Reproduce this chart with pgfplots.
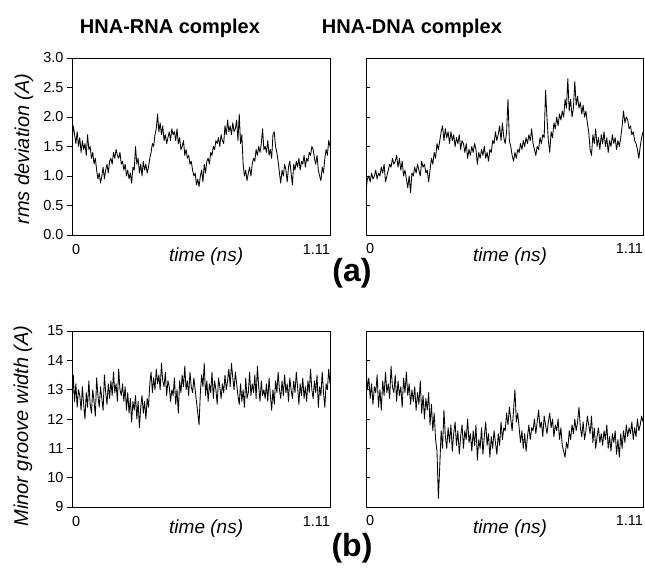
\documentclass[border=0pt]{standalone}
\usepackage{pgfplots}
\pgfplotsset{compat=1.18}
\usepackage{pgfplotstable}
\usepackage{fontspec}
\setmainfont{Liberation Sans}

\pgfplotstableread[row sep=\\]{y\\
1.6\\1.85\\1.7\\1.55\\1.75\\1.5\\1.65\\1.4\\1.6\\1.45\\
1.55\\1.35\\1.7\\1.45\\1.5\\1.3\\1.4\\1.2\\1.3\\1.1\\
0.95\\1.05\\0.88\\1.0\\1.15\\0.95\\1.1\\1.2\\1.05\\1.25\\
1.3\\1.2\\1.4\\1.3\\1.45\\1.35\\1.3\\1.4\\1.2\\1.25\\
1.1\\1.2\\1.0\\1.1\\0.95\\1.05\\0.88\\1.15\\1.1\\1.5\\
1.2\\1.3\\1.05\\1.2\\1.0\\1.25\\1.1\\1.2\\1.05\\1.15\\
1.3\\1.4\\1.55\\1.5\\1.7\\1.8\\2.05\\1.75\\1.9\\1.7\\
1.85\\1.6\\1.7\\1.55\\1.65\\1.75\\1.6\\1.8\\1.7\\1.75\\
1.6\\1.8\\1.55\\1.65\\1.45\\1.5\\1.6\\1.35\\1.45\\1.3\\
1.35\\1.2\\1.25\\1.1\\1.0\\1.05\\0.85\\0.95\\0.82\\1.0\\
1.1\\0.9\\1.2\\1.05\\1.25\\1.3\\1.2\\1.4\\1.35\\1.5\\
1.45\\1.6\\1.55\\1.65\\1.5\\1.7\\1.6\\1.55\\1.85\\1.7\\
1.95\\1.75\\1.85\\1.7\\1.9\\1.75\\1.8\\1.95\\1.6\\2.05\\
1.55\\1.7\\1.2\\1.0\\1.1\\0.92\\1.05\\1.15\\1.0\\1.2\\
1.3\\1.25\\1.45\\1.35\\1.5\\1.4\\1.55\\1.8\\1.45\\1.5\\
1.4\\1.6\\1.35\\1.45\\1.3\\1.7\\1.75\\1.5\\1.4\\1.25\\
1.05\\0.88\\1.1\\1.0\\1.2\\1.1\\0.9\\1.15\\1.25\\1.05\\
0.85\\1.2\\1.1\\1.25\\1.15\\1.3\\1.1\\1.25\\1.2\\1.35\\
1.15\\1.3\\1.25\\1.4\\1.35\\1.5\\1.45\\1.3\\1.2\\1.35\\
1.1\\1.0\\0.92\\1.15\\1.05\\1.3\\1.45\\1.35\\1.6\\1.5\\
}\rmsrna

\pgfplotstableread[row sep=\\]{y\\
0.75\\0.95\\1.0\\0.9\\1.05\\0.95\\1.0\\1.1\\0.95\\1.05\\
1.0\\1.15\\1.05\\1.2\\0.9\\1.0\\1.1\\1.2\\1.15\\1.3\\
1.2\\1.25\\1.35\\1.15\\1.3\\1.1\\1.25\\1.0\\1.1\\0.95\\
0.8\\1.0\\0.72\\1.05\\1.0\\1.15\\1.05\\1.2\\1.1\\1.0\\
1.25\\1.15\\1.2\\1.05\\1.1\\0.9\\1.1\\1.3\\1.2\\1.4\\
1.3\\1.55\\1.45\\1.6\\1.75\\1.85\\1.6\\1.8\\1.65\\1.75\\
1.55\\1.75\\1.6\\1.7\\1.5\\1.65\\1.55\\1.7\\1.45\\1.6\\
1.55\\1.4\\1.55\\1.3\\1.45\\1.35\\1.5\\1.4\\1.55\\1.45\\
1.2\\1.4\\1.3\\1.45\\1.35\\1.5\\1.3\\1.4\\1.25\\1.45\\
1.4\\1.6\\1.55\\1.75\\1.6\\1.7\\1.85\\1.6\\1.9\\1.65\\
1.55\\1.75\\2.3\\1.6\\1.5\\1.35\\1.25\\1.4\\1.3\\1.45\\
1.4\\1.55\\1.45\\1.6\\1.5\\1.65\\1.55\\1.7\\1.6\\1.8\\
1.55\\1.45\\1.35\\1.5\\1.45\\1.65\\1.55\\1.7\\1.65\\2.45\\
2.0\\1.6\\1.4\\1.75\\1.65\\1.9\\1.8\\2.0\\1.85\\2.05\\
1.95\\2.1\\2.0\\2.3\\2.15\\2.65\\2.1\\2.3\\2.0\\2.15\\
2.6\\2.2\\2.35\\2.15\\2.25\\2.05\\2.2\\2.0\\2.1\\1.9\\
1.75\\1.45\\1.35\\1.7\\1.55\\1.8\\1.5\\1.65\\1.45\\1.7\\
1.55\\1.75\\1.5\\1.65\\1.4\\1.6\\1.5\\1.7\\1.55\\1.65\\
1.45\\1.6\\1.5\\1.65\\1.85\\2.1\\1.9\\2.0\\1.95\\1.8\\
1.85\\1.7\\1.75\\1.6\\1.55\\1.45\\1.3\\1.5\\1.65\\1.75\\
}\rmsdna

\pgfplotstableread[row sep=\\]{y\\
12.3\\13.5\\12.6\\13.2\\12.4\\13.0\\12.8\\12.3\\13.1\\12.5\\
12.0\\12.9\\12.4\\13.3\\12.5\\12.2\\13.0\\12.6\\12.1\\13.4\\
12.8\\12.4\\13.1\\12.7\\12.3\\13.5\\12.9\\12.5\\13.2\\12.7\\
13.3\\12.8\\13.6\\12.9\\13.2\\12.6\\13.7\\13.0\\12.8\\13.2\\
12.6\\13.1\\12.3\\12.9\\12.2\\12.7\\11.9\\12.6\\12.3\\12.8\\
12.0\\12.6\\11.7\\12.4\\12.8\\12.2\\12.6\\12.0\\12.7\\12.4\\
13.2\\13.6\\12.9\\13.4\\13.0\\13.7\\13.2\\13.5\\13.0\\13.9\\
13.3\\13.1\\13.6\\12.8\\13.3\\13.1\\12.6\\13.0\\12.8\\13.4\\
12.5\\13.0\\12.2\\13.3\\12.9\\13.5\\13.1\\13.8\\13.0\\13.3\\
12.8\\13.6\\13.1\\12.9\\13.4\\13.0\\12.6\\12.2\\11.8\\12.9\\
13.5\\13.1\\13.9\\12.8\\13.3\\12.6\\13.2\\12.9\\13.6\\12.7\\
13.3\\13.0\\12.5\\13.4\\13.1\\12.7\\13.2\\12.9\\13.5\\13.0\\
13.3\\13.7\\13.1\\13.9\\13.4\\13.0\\13.6\\13.2\\12.8\\12.5\\
13.2\\12.6\\13.0\\12.4\\13.4\\12.7\\12.9\\13.6\\12.8\\13.2\\
12.9\\13.5\\12.7\\13.8\\13.1\\12.6\\13.3\\12.8\\13.0\\12.7\\
13.2\\12.6\\13.4\\12.8\\12.3\\13.0\\12.5\\13.3\\12.9\\13.6\\
13.0\\12.7\\13.3\\12.8\\13.5\\12.9\\13.2\\12.6\\13.4\\13.0\\
12.7\\13.3\\12.9\\13.6\\13.1\\12.5\\13.2\\12.8\\13.4\\12.7\\
13.1\\12.6\\13.3\\12.9\\13.7\\13.0\\12.7\\13.3\\12.9\\13.5\\
12.4\\13.1\\12.8\\13.6\\12.9\\12.4\\13.2\\13.0\\13.7\\13.2\\
}\mgrna

\pgfplotstableread[row sep=\\]{y\\
13.8\\13.0\\13.4\\12.7\\13.2\\12.5\\13.1\\12.9\\13.5\\12.4\\
13.0\\12.3\\13.3\\12.8\\13.6\\12.9\\13.2\\12.7\\13.8\\13.1\\
12.9\\13.5\\12.6\\13.3\\12.8\\13.1\\12.4\\13.4\\12.9\\13.6\\
12.8\\13.2\\12.5\\13.0\\12.6\\13.1\\12.3\\12.9\\12.5\\13.3\\
12.2\\12.8\\12.0\\12.7\\12.3\\12.9\\11.8\\12.5\\11.6\\12.2\\
11.3\\10.9\\9.3\\10.4\\11.6\\11.0\\12.3\\11.4\\11.0\\11.7\\
11.2\\11.8\\10.9\\11.5\\11.9\\11.1\\11.6\\10.8\\11.4\\11.8\\
11.0\\11.6\\11.3\\12.0\\11.2\\11.5\\10.9\\11.6\\11.1\\11.8\\
10.6\\11.3\\11.0\\11.7\\10.8\\11.4\\11.9\\11.1\\11.5\\10.7\\
11.4\\11.0\\11.6\\11.2\\10.8\\11.5\\11.1\\11.9\\11.3\\11.7\\
11.6\\12.2\\11.8\\12.4\\12.0\\11.6\\12.3\\13.0\\11.9\\12.2\\
11.7\\11.2\\11.6\\11.0\\11.5\\10.9\\11.4\\11.8\\11.3\\11.7\\
11.6\\12.0\\11.5\\11.9\\12.3\\11.7\\11.9\\11.4\\12.1\\11.8\\
11.5\\11.9\\12.2\\11.7\\12.0\\11.4\\11.8\\11.6\\12.0\\11.3\\
11.7\\11.1\\10.9\\10.7\\11.2\\11.0\\11.6\\11.3\\11.8\\11.5\\
12.0\\11.6\\11.9\\12.4\\11.7\\11.4\\11.9\\11.3\\11.6\\12.1\\
11.8\\11.5\\12.1\\11.2\\11.7\\11.0\\11.4\\11.7\\11.2\\11.5\\
11.1\\11.6\\11.3\\11.8\\11.0\\11.4\\10.9\\11.5\\11.2\\11.6\\
10.8\\11.3\\10.7\\11.5\\11.0\\11.6\\11.2\\11.8\\11.4\\11.7\\
11.5\\11.9\\11.3\\11.7\\11.4\\12.0\\11.6\\11.8\\12.1\\11.9\\
}\mgdna

\pgfplotsset{
  panel/.style={
    scale only axis,
    xmin=0, xmax=199,
    xtick={0,199},
    xticklabels={\rlap{0},\llap{1.11}},
    xtick style={draw=none},
    ytick pos=left,
    axis line style={line width=0.8pt},
    tick style={line width=0.8pt, black},
    tick label style={font=\fontsize{14.5}{14.5}\selectfont},
    /pgf/number format/assume math mode=true,
    xlabel={time (ns)},
    xlabel style={at={(axis description cs:0.52,0)}, anchor=north, inner sep=0pt, yshift=-13pt, font=\fontsize{19}{19}\selectfont\itshape},
  },
  leftpanel/.style={panel, tick align=outside, major tick length=5pt,
    xticklabel style={yshift=-1pt},
    ylabel style={anchor=center, font=\fontsize{20}{20}\selectfont\itshape}},
  rightpanel/.style={panel, tick align=inside, major tick length=4pt, yticklabels={},
    xticklabel style={yshift=-5pt}},
  rmsaxis/.style={ymin=0, ymax=3, ytick={0,0.5,1,1.5,2,2.5,3},
    yticklabel style={/pgf/number format/.cd, fixed, fixed zerofill, precision=1}},
  mgaxis/.style={ymin=9, ymax=15, ytick={9,10,11,12,13,14,15}},
  trace/.style={black, line width=0.85pt, no markers, line join=round},
}

\begin{document}
\begin{tikzpicture}
\useasboundingbox (0pt,0pt) rectangle (645pt,-573pt);

\node[anchor=base, font=\fontsize{20}{20}\selectfont\bfseries] at (170pt,-33pt) {HNA-RNA complex};
\node[anchor=base, font=\fontsize{20}{20}\selectfont\bfseries] at (412pt,-33pt) {HNA-DNA complex};

\begin{axis}[leftpanel, rmsaxis, at={(72pt,-235pt)}, anchor=south west, width=258pt, height=177pt,
  ylabel={rms deviation (A)}, ylabel style={at={(axis description cs:-0.186,0.486)}}]
\addplot[trace] table[x expr=\coordindex, y=y] {\rmsrna};
\end{axis}

\begin{axis}[rightpanel, rmsaxis, at={(366pt,-235pt)}, anchor=south west, width=277pt, height=177pt]
\addplot[trace] table[x expr=\coordindex, y=y] {\rmsdna};
\end{axis}

\begin{axis}[leftpanel, mgaxis, at={(72pt,-507pt)}, anchor=south west, width=258pt, height=176pt,
  ylabel={Minor groove width (A)}, ylabel style={at={(axis description cs:-0.19,0.46)}}]
\addplot[trace] table[x expr=\coordindex, y=y] {\mgrna};
\end{axis}

\begin{axis}[rightpanel, mgaxis, at={(366pt,-507pt)}, anchor=south west, width=277pt, height=176pt]
\addplot[trace] table[x expr=\coordindex, y=y] {\mgdna};
\end{axis}

\node[anchor=base, font=\fontsize{32}{32}\selectfont\bfseries] at (352pt,-281pt) {(a)};
\node[anchor=base, font=\fontsize{32}{32}\selectfont\bfseries] at (352pt,-556pt) {(b)};
\end{tikzpicture}
\end{document}
